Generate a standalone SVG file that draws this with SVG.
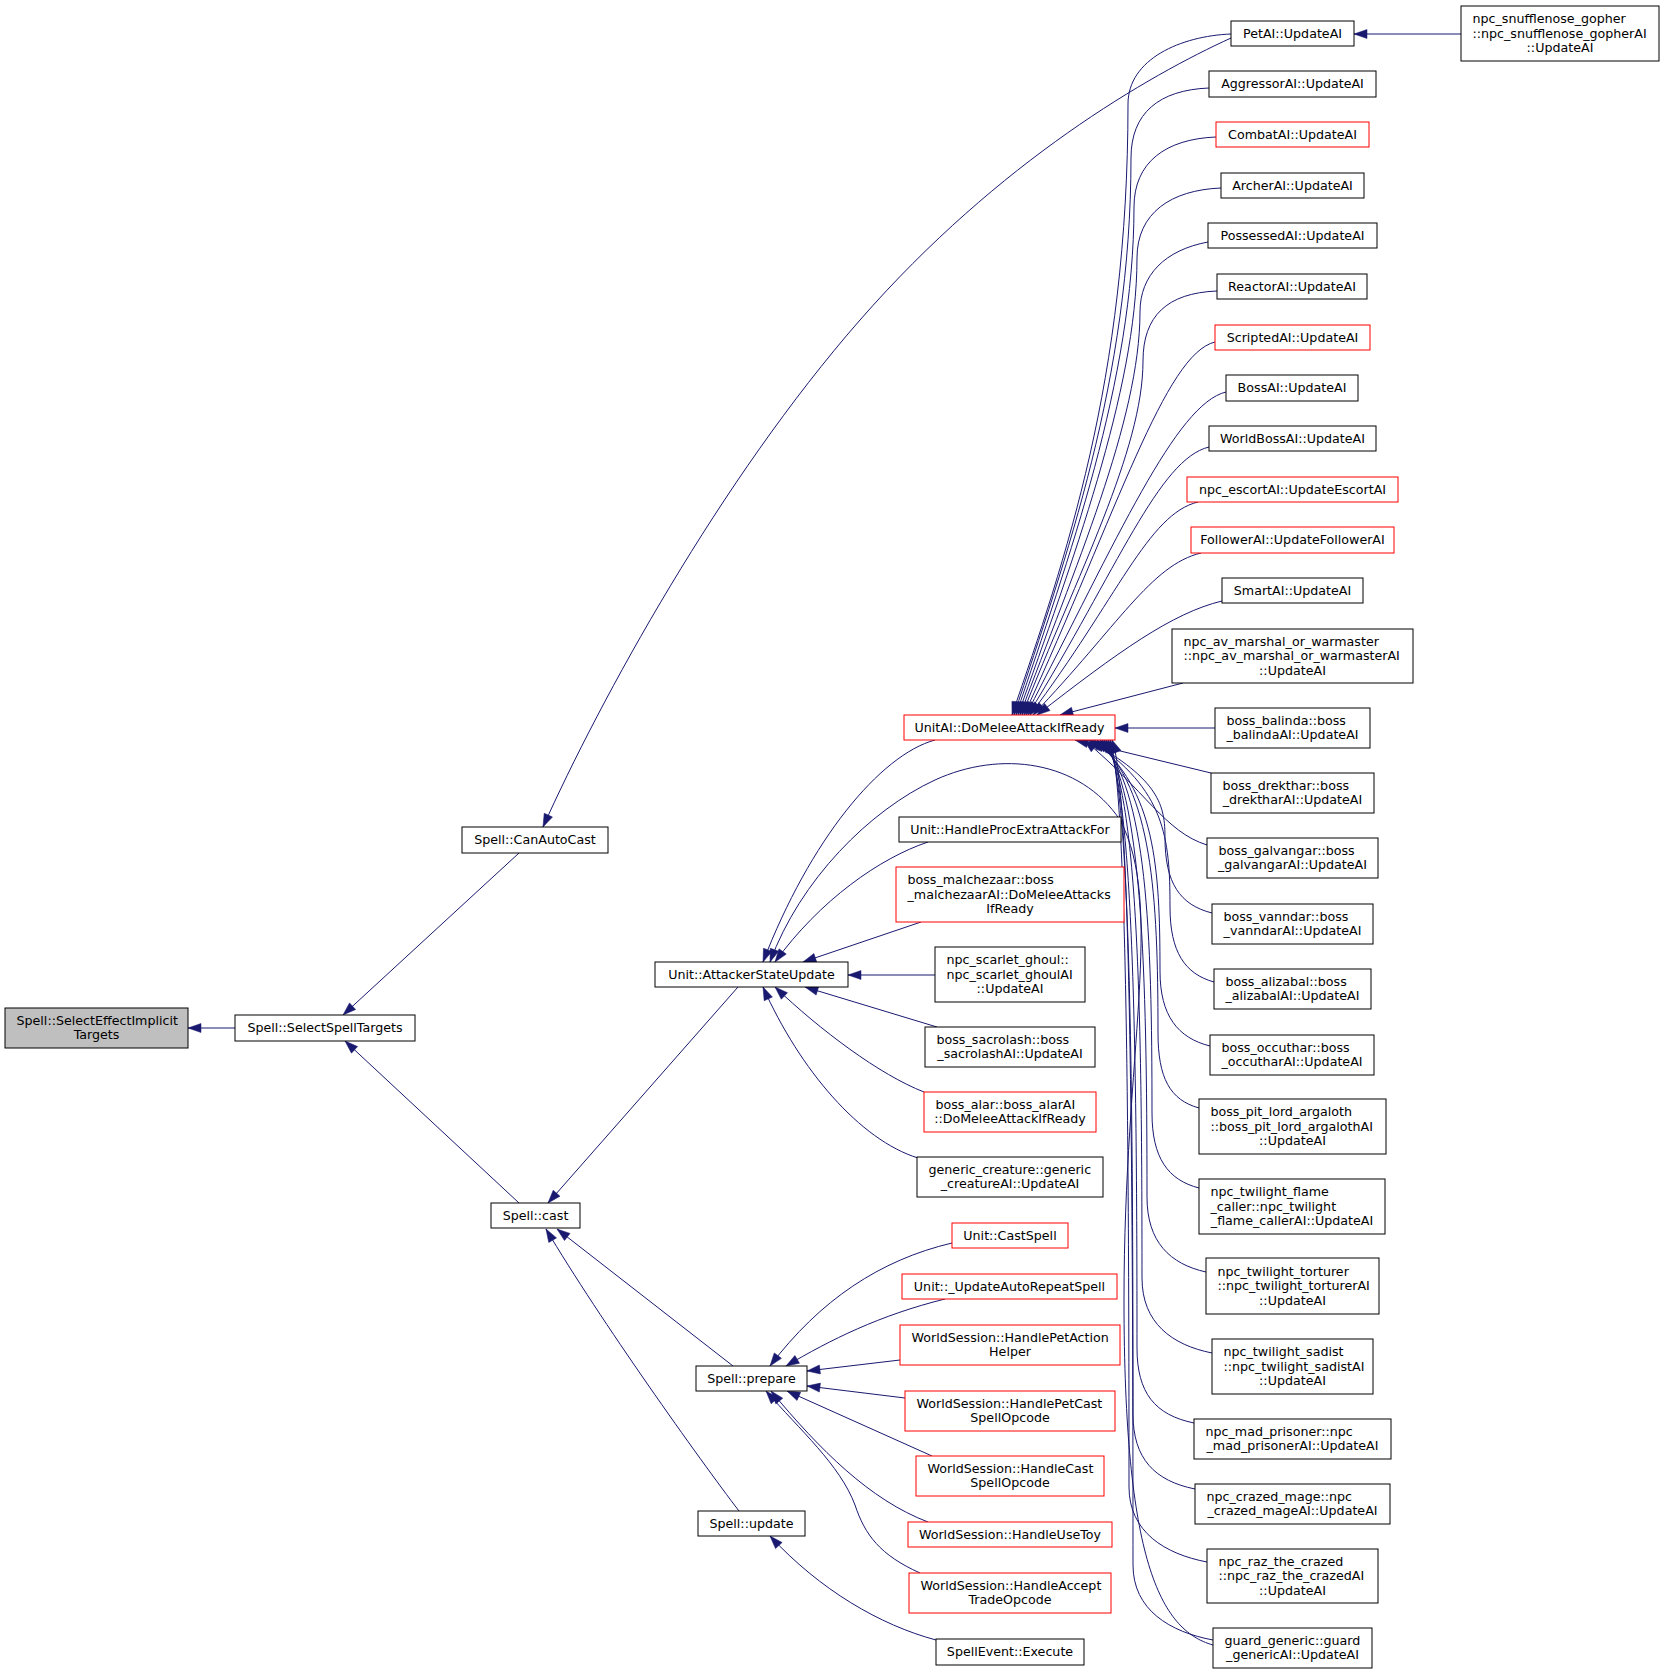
<svg xmlns="http://www.w3.org/2000/svg" width="1664" height="1674" viewBox="0 0 1664 1674">
<defs>
<style>
.n rect{fill:#fff;stroke:#000;stroke-width:1}
.n.r rect{stroke:#f00}
.n.g rect{fill:#bfbfbf}
text{font-family:"DejaVu Sans","Liberation Sans",sans-serif;font-size:12.67px;fill:#000}
.c{text-anchor:middle}
#edges path{fill:none;stroke:#191970;stroke-width:1;marker-end:url(#ah)}
</style>
<marker id="ah" markerWidth="13" markerHeight="9" refX="13" refY="4.5" orient="auto" markerUnits="userSpaceOnUse" overflow="visible">
<path d="M0,0 L13,4.5 L0,9 Z" fill="#191970" stroke="#191970" stroke-width="0.5"/>
</marker>
</defs>
<rect x="0" y="0" width="1664" height="1674" fill="#fff"/>
<g id="edges">
<path d="M235,1028 L188,1028"/>
<path d="M519,853 L343,1015"/>
<path d="M519,1203 L345,1041"/>
<path d="M1231,38 C1150,75 1000,160 860,320 C720,480 600,700 543,827"/>
<path d="M1461,34 L1354,34"/>
<path d="M738,987 L548,1203"/>
<path d="M733,1366 L557,1229"/>
<path d="M739,1511 C700,1460 600,1320 546,1229"/>
<path d="M935,740 C880,755 810,840 763,962"/>
<path d="M1213,1645 C1160,1630 1124,1560 1124,1300 C1124,1050 1165,905 1120,820 C1080,760 1000,750 935,780 C870,810 800,880 770,962"/>
<path d="M928,842 C880,858 820,900 775,962"/>
<path d="M921,922 L803,962"/>
<path d="M935,975 L848,975"/>
<path d="M937,1027 L805,987"/>
<path d="M924,1092 C880,1075 820,1030 775,987"/>
<path d="M918,1158 C860,1140 800,1070 763,987"/>
<path d="M952,1243 C880,1260 820,1300 770,1366"/>
<path d="M945,1299 C880,1315 830,1340 786,1366"/>
<path d="M900,1360 L807,1371"/>
<path d="M905,1398 L807,1386"/>
<path d="M932,1456 L787,1391"/>
<path d="M928,1522 C870,1500 820,1450 771,1391"/>
<path d="M920,1573 C880,1555 865,1535 855,1505 C840,1465 800,1430 766,1391"/>
<path d="M936,1640 C880,1625 820,1590 770,1536"/>
<path d="M1231,34 C1181,36 1128,59 1128,104 C1128,380 1065,560 1012,715"/>
<path d="M1209,88 C1159,90 1131,113 1131,158 C1131,380 1065,560 1014,715"/>
<path d="M1216,137 C1166,139 1134,162 1134,207 C1134,380 1068,560 1016,715"/>
<path d="M1221,188 C1171,190 1137,213 1137,258 C1137,390 1071,565 1018,715"/>
<path d="M1208,242 C1165,250 1140,275 1140,312 C1140,420 1074,570 1020,715"/>
<path d="M1217,291 C1167,293 1143,316 1143,361 C1143,450 1077,575 1022,715"/>
<path d="M1215,342 C1165,354 1118,510 1024,715"/>
<path d="M1226,392 C1176,404 1118,537 1026,715"/>
<path d="M1209,447 C1159,459 1118,568 1028,715"/>
<path d="M1198,502 C1148,514 1118,598 1030,715"/>
<path d="M1201,553 C1151,565 1118,626 1033,715"/>
<path d="M1222,601 C1172,613 1118,652 1037,715"/>
<path d="M1183,683 L1060,715"/>
<path d="M1215,728 L1115,728"/>
<path d="M1211,773 L1075,740"/>
<path d="M1207,845 C1165,832 1145,790 1084,740"/>
<path d="M1212,913 C1180,905 1165,883 1165,838 C1165,806 1160,780 1088,740"/>
<path d="M1214,982 C1185,974 1170,952 1170,907 C1170,837 1165,790 1091,740"/>
<path d="M1210,1046 C1178,1038 1160,1016 1160,971 C1160,866 1155,790 1094,740"/>
<path d="M1199,1108 C1170,1100 1158,1078 1158,1033 C1158,894 1152,790 1097,740"/>
<path d="M1199,1188 C1168,1180 1152,1158 1152,1113 C1152,930 1147,790 1100,740"/>
<path d="M1206,1272 C1170,1264 1147,1242 1147,1197 C1147,968 1142,790 1102,740"/>
<path d="M1212,1353 C1172,1345 1142,1323 1142,1278 C1142,1004 1138,790 1104,740"/>
<path d="M1194,1423 C1155,1415 1137,1393 1137,1348 C1137,1036 1133,790 1106,740"/>
<path d="M1195,1489 C1155,1481 1133,1459 1133,1414 C1133,1065 1130,790 1108,740"/>
<path d="M1207,1562 C1165,1554 1129,1532 1129,1487 C1129,1098 1126,785 1110,740"/>
<path d="M1213,1640 C1170,1632 1133,1610 1133,1565 C1133,1133 1130,785 1112,740"/>
</g>
<g id="n_seit" class="n g"><rect x="5" y="1008" width="183" height="40"/><text x="16.5" y="1024.75">Spell::SelectEffectImplicit</text><text class="c" x="96.5" y="1039.25">Targets</text></g>
<g id="n_sst" class="n"><rect x="235" y="1015" width="180" height="26"/><text class="c" x="325" y="1032">Spell::SelectSpellTargets</text></g>
<g id="n_cac" class="n"><rect x="462" y="827" width="146" height="26"/><text class="c" x="535" y="844">Spell::CanAutoCast</text></g>
<g id="n_cast" class="n"><rect x="491" y="1203" width="89" height="25"/><text class="c" x="535.5" y="1219.5">Spell::cast</text></g>
<g id="n_petai" class="n"><rect x="1231" y="21" width="123" height="25"/><text class="c" x="1292.5" y="37.5">PetAI::UpdateAI</text></g>
<g id="n_snuff" class="n"><rect x="1461" y="6" width="198" height="55"/><text x="1472.5" y="23">npc_snufflenose_gopher</text><text x="1472.5" y="37.5">::npc_snufflenose_gopherAI</text><text class="c" x="1560" y="52">::UpdateAI</text></g>
<g id="n_aggr" class="n"><rect x="1209" y="71" width="167" height="26"/><text class="c" x="1292.5" y="88">AggressorAI::UpdateAI</text></g>
<g id="n_combat" class="n r"><rect x="1216" y="122" width="153" height="25"/><text class="c" x="1292.5" y="138.5">CombatAI::UpdateAI</text></g>
<g id="n_archer" class="n"><rect x="1221" y="173" width="143" height="25"/><text class="c" x="1292.5" y="189.5">ArcherAI::UpdateAI</text></g>
<g id="n_poss" class="n"><rect x="1208" y="223" width="169" height="25"/><text class="c" x="1292.5" y="239.5">PossessedAI::UpdateAI</text></g>
<g id="n_react" class="n"><rect x="1217" y="274" width="150" height="25"/><text class="c" x="1292" y="290.5">ReactorAI::UpdateAI</text></g>
<g id="n_script" class="n r"><rect x="1215" y="325" width="155" height="25"/><text class="c" x="1292.5" y="341.5">ScriptedAI::UpdateAI</text></g>
<g id="n_boss" class="n"><rect x="1226" y="375" width="132" height="26"/><text class="c" x="1292" y="392">BossAI::UpdateAI</text></g>
<g id="n_wboss" class="n"><rect x="1209" y="426" width="167" height="25"/><text class="c" x="1292.5" y="442.5">WorldBossAI::UpdateAI</text></g>
<g id="n_escort" class="n r"><rect x="1187" y="477" width="211" height="25"/><text class="c" x="1292.5" y="493.5">npc_escortAI::UpdateEscortAI</text></g>
<g id="n_follow" class="n r"><rect x="1191" y="527" width="203" height="26"/><text class="c" x="1292.5" y="544">FollowerAI::UpdateFollowerAI</text></g>
<g id="n_smart" class="n"><rect x="1222" y="578" width="141" height="25"/><text class="c" x="1292.5" y="594.5">SmartAI::UpdateAI</text></g>
<g id="n_avm" class="n"><rect x="1172" y="629" width="241" height="54"/><text x="1183.5" y="645.5">npc_av_marshal_or_warmaster</text><text x="1183.5" y="660">::npc_av_marshal_or_warmasterAI</text><text class="c" x="1292.5" y="674.5">::UpdateAI</text></g>
<g id="n_balinda" class="n"><rect x="1215" y="708" width="155" height="40"/><text x="1226.5" y="724.75">boss_balinda::boss</text><text class="c" x="1292.5" y="739.25">_balindaAI::UpdateAI</text></g>
<g id="n_drek" class="n"><rect x="1211" y="773" width="163" height="40"/><text x="1222.5" y="789.75">boss_drekthar::boss</text><text class="c" x="1292.5" y="804.25">_drektharAI::UpdateAI</text></g>
<g id="n_galv" class="n"><rect x="1207" y="838" width="171" height="40"/><text x="1218.5" y="854.75">boss_galvangar::boss</text><text class="c" x="1292.5" y="869.25">_galvangarAI::UpdateAI</text></g>
<g id="n_vann" class="n"><rect x="1212" y="904" width="161" height="40"/><text x="1223.5" y="920.75">boss_vanndar::boss</text><text class="c" x="1292.5" y="935.25">_vanndarAI::UpdateAI</text></g>
<g id="n_aliz" class="n"><rect x="1214" y="969" width="157" height="40"/><text x="1225.5" y="985.75">boss_alizabal::boss</text><text class="c" x="1292.5" y="1000.25">_alizabalAI::UpdateAI</text></g>
<g id="n_occu" class="n"><rect x="1210" y="1035" width="164" height="40"/><text x="1221.5" y="1051.75">boss_occuthar::boss</text><text class="c" x="1292" y="1066.25">_occutharAI::UpdateAI</text></g>
<g id="n_pitlord" class="n"><rect x="1199" y="1099" width="187" height="55"/><text x="1210.5" y="1116">boss_pit_lord_argaloth</text><text x="1210.5" y="1130.5">::boss_pit_lord_argalothAI</text><text class="c" x="1292.5" y="1145">::UpdateAI</text></g>
<g id="n_flame" class="n"><rect x="1199" y="1179" width="186" height="55"/><text x="1210.5" y="1196">npc_twilight_flame</text><text x="1210.5" y="1210.5">_caller::npc_twilight</text><text class="c" x="1292" y="1225">_flame_callerAI::UpdateAI</text></g>
<g id="n_tort" class="n"><rect x="1206" y="1258" width="173" height="56"/><text x="1217.5" y="1275.5">npc_twilight_torturer</text><text x="1217.5" y="1290">::npc_twilight_torturerAI</text><text class="c" x="1292.5" y="1304.5">::UpdateAI</text></g>
<g id="n_sadist" class="n"><rect x="1212" y="1339" width="161" height="55"/><text x="1223.5" y="1356">npc_twilight_sadist</text><text x="1223.5" y="1370.5">::npc_twilight_sadistAI</text><text class="c" x="1292.5" y="1385">::UpdateAI</text></g>
<g id="n_madp" class="n"><rect x="1194" y="1419" width="197" height="40"/><text x="1205.5" y="1435.75">npc_mad_prisoner::npc</text><text class="c" x="1292.5" y="1450.25">_mad_prisonerAI::UpdateAI</text></g>
<g id="n_crazed" class="n"><rect x="1195" y="1484" width="195" height="40"/><text x="1206.5" y="1500.75">npc_crazed_mage::npc</text><text class="c" x="1292.5" y="1515.25">_crazed_mageAI::UpdateAI</text></g>
<g id="n_raz" class="n"><rect x="1207" y="1549" width="171" height="54"/><text x="1218.5" y="1565.5">npc_raz_the_crazed</text><text x="1218.5" y="1580">::npc_raz_the_crazedAI</text><text class="c" x="1292.5" y="1594.5">::UpdateAI</text></g>
<g id="n_guard" class="n"><rect x="1213" y="1628" width="159" height="40"/><text x="1224.5" y="1644.75">guard_generic::guard</text><text class="c" x="1292.5" y="1659.25">_genericAI::UpdateAI</text></g>
<g id="n_domelee" class="n r"><rect x="904" y="715" width="211" height="25"/><text class="c" x="1009.5" y="731.5">UnitAI::DoMeleeAttackIfReady</text></g>
<g id="n_hpe" class="n"><rect x="899" y="817" width="222" height="25"/><text class="c" x="1010" y="833.5">Unit::HandleProcExtraAttackFor</text></g>
<g id="n_malch" class="n r"><rect x="896" y="867" width="228" height="55"/><text x="907.5" y="884">boss_malchezaar::boss</text><text x="907.5" y="898.5">_malchezaarAI::DoMeleeAttacks</text><text class="c" x="1010" y="913">IfReady</text></g>
<g id="n_ghoul" class="n"><rect x="935" y="947" width="150" height="55"/><text x="946.5" y="964">npc_scarlet_ghoul::</text><text x="946.5" y="978.5">npc_scarlet_ghoulAI</text><text class="c" x="1010" y="993">::UpdateAI</text></g>
<g id="n_sacro" class="n"><rect x="925" y="1027" width="170" height="40"/><text x="936.5" y="1043.75">boss_sacrolash::boss</text><text class="c" x="1010" y="1058.25">_sacrolashAI::UpdateAI</text></g>
<g id="n_alar" class="n r"><rect x="924" y="1092" width="172" height="40"/><text x="935.5" y="1108.75">boss_alar::boss_alarAI</text><text class="c" x="1010" y="1123.25">::DoMeleeAttackIfReady</text></g>
<g id="n_gencr" class="n"><rect x="917" y="1157" width="186" height="40"/><text x="928.5" y="1173.75">generic_creature::generic</text><text class="c" x="1010" y="1188.25">_creatureAI::UpdateAI</text></g>
<g id="n_asu" class="n"><rect x="655" y="962" width="193" height="25"/><text class="c" x="751.5" y="978.5">Unit::AttackerStateUpdate</text></g>
<g id="n_castspell" class="n r"><rect x="952" y="1223" width="116" height="25"/><text class="c" x="1010" y="1239.5">Unit::CastSpell</text></g>
<g id="n_autorep" class="n r"><rect x="902" y="1274" width="215" height="25"/><text class="c" x="1009.5" y="1290.5">Unit::_UpdateAutoRepeatSpell</text></g>
<g id="n_petact" class="n r"><rect x="900" y="1325" width="220" height="40"/><text x="911.5" y="1341.75">WorldSession::HandlePetAction</text><text class="c" x="1010" y="1356.25">Helper</text></g>
<g id="n_petcast" class="n r"><rect x="905" y="1391" width="210" height="40"/><text x="916.5" y="1407.75">WorldSession::HandlePetCast</text><text class="c" x="1010" y="1422.25">SpellOpcode</text></g>
<g id="n_castop" class="n r"><rect x="916" y="1456" width="188" height="40"/><text x="927.5" y="1472.75">WorldSession::HandleCast</text><text class="c" x="1010" y="1487.25">SpellOpcode</text></g>
<g id="n_toy" class="n r"><rect x="908" y="1522" width="204" height="25"/><text class="c" x="1010" y="1538.5">WorldSession::HandleUseToy</text></g>
<g id="n_trade" class="n r"><rect x="909" y="1573" width="202" height="40"/><text x="920.5" y="1589.75">WorldSession::HandleAccept</text><text class="c" x="1010" y="1604.25">TradeOpcode</text></g>
<g id="n_prepare" class="n"><rect x="696" y="1366" width="111" height="25"/><text class="c" x="751.5" y="1382.5">Spell::prepare</text></g>
<g id="n_update" class="n"><rect x="698" y="1511" width="107" height="25"/><text class="c" x="751.5" y="1527.5">Spell::update</text></g>
<g id="n_spellev" class="n"><rect x="936" y="1639" width="148" height="26"/><text class="c" x="1010" y="1656">SpellEvent::Execute</text></g>
</svg>
